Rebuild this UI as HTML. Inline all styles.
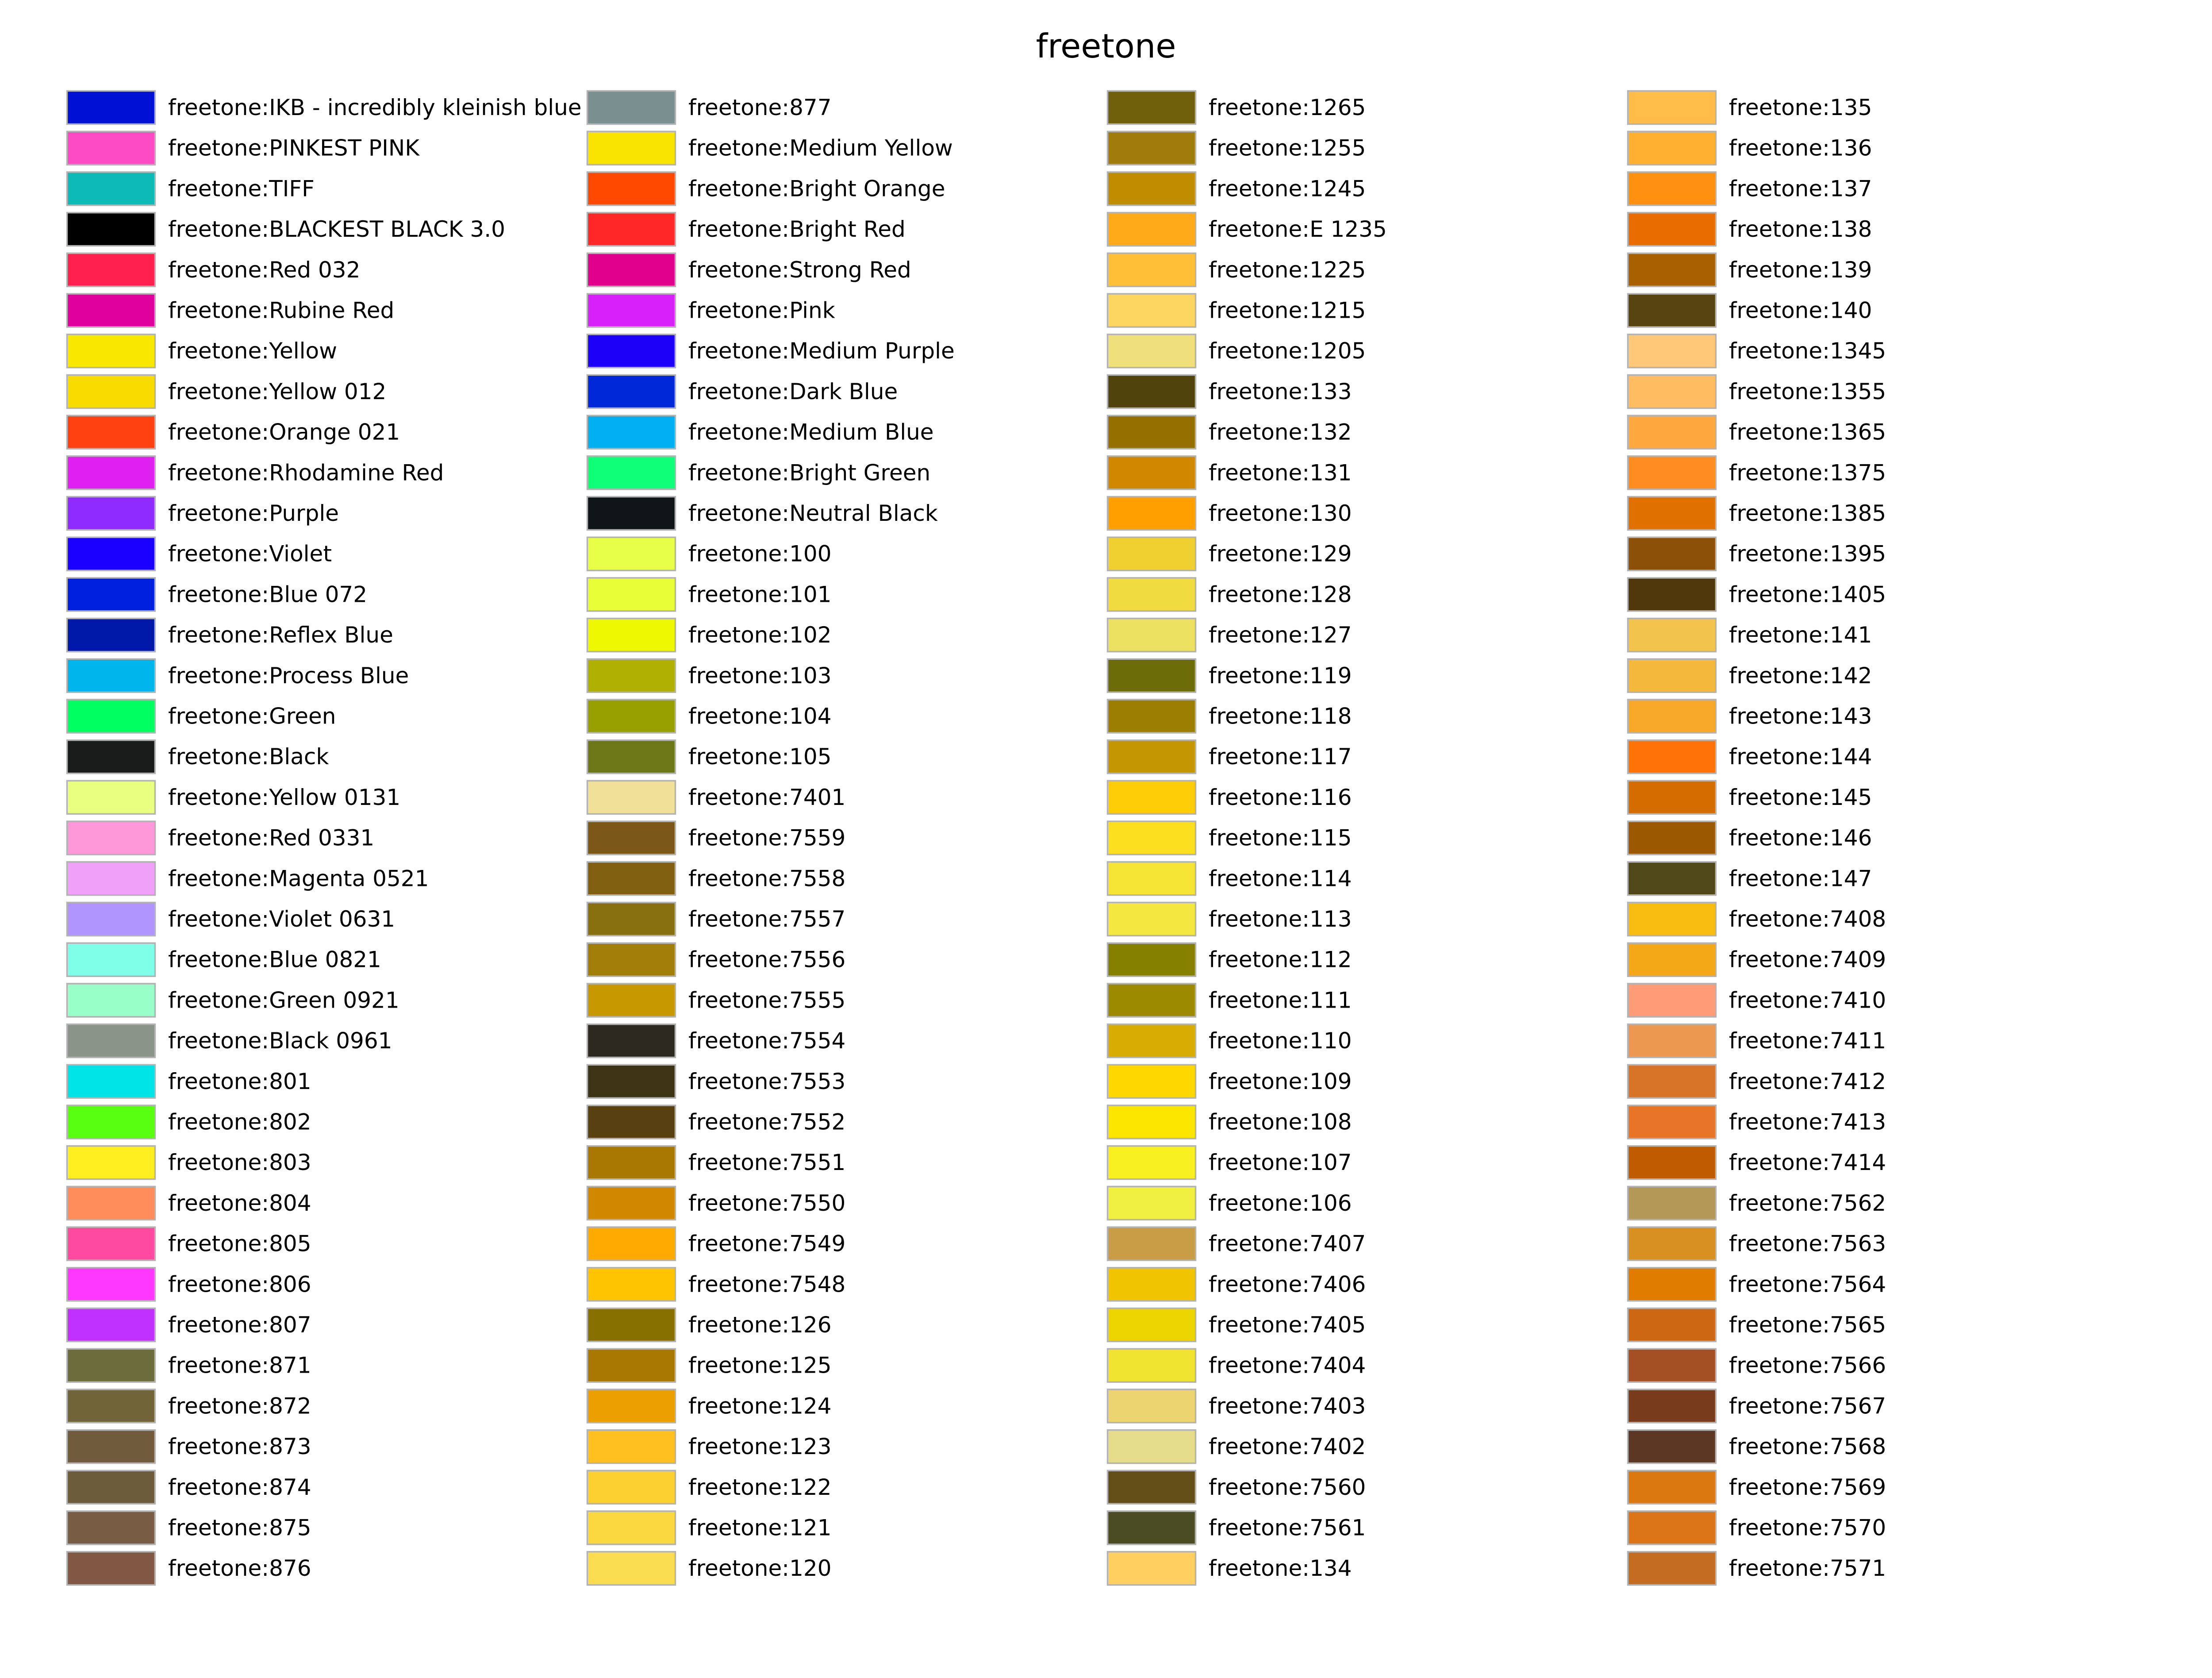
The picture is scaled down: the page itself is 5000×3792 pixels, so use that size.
<!DOCTYPE html>
<html><head><meta charset="utf-8"><style>
html,body{margin:0;padding:0;background:#fff;}
svg{display:block;}
text{font-family:"DejaVu Sans","Liberation Sans",sans-serif;fill:#000;}
</style></head><body>
<svg id="chart" width="5000" height="3792" viewBox="0 0 5000 3792" xmlns="http://www.w3.org/2000/svg">
<rect width="5000" height="3792" fill="#fff"/>
<text x="2500" y="130" font-size="75" text-anchor="middle">freetone</text>
<g id="swatches"></g>
</svg>
<script>
const names1=["IKB - incredibly kleinish blue","PINKEST PINK","TIFF","BLACKEST BLACK 3.0","Red 032","Rubine Red","Yellow","Yellow 012","Orange 021","Rhodamine Red","Purple","Violet","Blue 072","Reflex Blue","Process Blue","Green","Black","Yellow 0131","Red 0331","Magenta 0521","Violet 0631","Blue 0821","Green 0921","Black 0961","801","802","803","804","805","806","807","871","872","873","874","875","876"];
const colors1=["#0010d4","#fc4ac4","#0ebab6","#000000","#ff2050","#e0009e","#f8e800","#f8dc00","#ff4010","#e020f0","#8e2cff","#1a00ff","#0020e0","#0018a8","#00b4ec","#00ff60","#1a1c1c","#e8ff80","#ff98d8","#f0a0f8","#b094ff","#80ffe8","#98ffc8","#8a9488","#00e4e8","#58ff10","#ffee20","#ff8c5a","#ff4aa0","#ff38ff","#c030ff","#6c6c3c","#706438","#705c3c","#6c5c3c","#785c44","#805844"];
const names2=["877","Medium Yellow","Bright Orange","Bright Red","Strong Red","Pink","Medium Purple","Dark Blue","Medium Blue","Bright Green","Neutral Black","100","101","102","103","104","105","7401","7559","7558","7557","7556","7555","7554","7553","7552","7551","7550","7549","7548","126","125","124","123","122","121","120"];
const colors2=["#7a9090","#f8e400","#ff4800","#ff2828","#e0008c","#d820f8","#1c00f8","#0028d8","#00b0f0","#10ff78","#101618","#e8ff48","#e8ff38","#eef800","#b0b000","#98a000","#6c7818","#f0e098","#7c5818","#806010","#887010","#a07e08","#c89800","#2c2a20","#3c3414","#584010","#a87800","#d08800","#ffaa00","#ffc400","#887000","#a87800","#eca000","#ffc020","#fcd030","#fcd840","#fadc50"];
const names3=["1265","1255","1245","E 1235","1225","1215","1205","133","132","131","130","129","128","127","119","118","117","116","115","114","113","112","111","110","109","108","107","106","7407","7406","7405","7404","7403","7402","7560","7561","134"];
const colors3=["#70600c","#a07c0c","#c08c00","#ffaa18","#ffc038","#fcd660","#f0e07c","#50440c","#947000","#d08800","#ffa000","#f0d030","#f0dc40","#ece060","#6c6c08","#9c7e00","#c49600","#ffcc08","#fce020","#f6e434","#f4e840","#868000","#9c8a00","#d8ac00","#ffd800","#fce600","#f8f020","#f0f040","#c89c44","#f0c400","#ecd400","#f0e430","#ecd470","#e4dc88","#644e18","#4c4c24","#ffd060"];
const names4=["135","136","137","138","139","140","1345","1355","1365","1375","1385","1395","1405","141","142","143","144","145","146","147","7408","7409","7410","7411","7412","7413","7414","7562","7563","7564","7565","7566","7567","7568","7569","7570","7571"];
const colors4=["#ffbc48","#ffb030","#ff9010","#e86c00","#a86000","#584410","#ffc878","#ffbc60","#ffa840","#ff8c20","#e07000","#8c5008","#50380c","#f2c44c","#f4b83c","#f8a828","#ff7208","#d46c00","#9c5800","#504818","#f8bc10","#f4a818","#ff9c78","#ec9850","#d87428","#e87428","#c05c00","#b49858","#d89020","#e07c00","#cc6814","#a45024","#783c1c","#5c3824","#dc7810","#dc7418","#c46c20"];

const cols=[[names1,colors1],[names2,colors2],[names3,colors3],[names4,colors4]];
const NS="http://www.w3.org/2000/svg";
const g=document.getElementById('swatches');
const colX=c=>150+c*1176;
const rowY=r=>204+r*91.7;
cols.forEach(([names,colors],c)=>{
  names.forEach((n,r)=>{
    const rect=document.createElementNS(NS,'rect');
    
    
    rect.setAttribute('x',colX(c)+1.5);
    rect.setAttribute('y',rowY(r)+1.5);
    rect.setAttribute('width',199);
    rect.setAttribute('height',75);
    rect.setAttribute('fill',colors[r]);
    rect.setAttribute('stroke','#b3b3b3');
    rect.setAttribute('stroke-width','3.5');
    g.appendChild(rect);
    const t=document.createElementNS(NS,'text');
    
    
    t.setAttribute('x',colX(c)+230);
    t.setAttribute('y',rowY(r)+56);
    t.setAttribute('font-size','50');
    t.textContent='freetone:'+n;
    g.appendChild(t);
  });
});
</script>
</body></html>
